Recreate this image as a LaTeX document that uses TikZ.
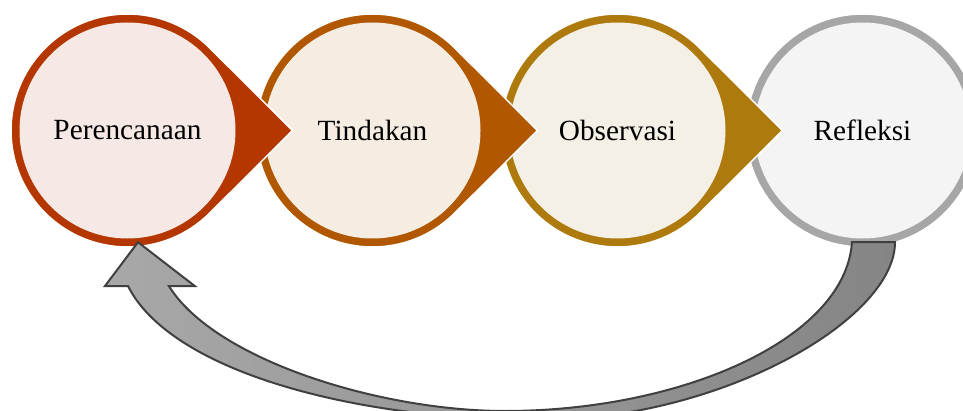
\documentclass[tikz,border=0pt]{standalone}
\usepackage{fontspec}
\setmainfont{Liberation Serif}
\usetikzlibrary{calc}
\newcommand{\outrad}{116.5}
\newcommand{\tipdist}{165}
\definecolor{planring}{RGB}{180,54,0}
\definecolor{planfill}{RGB}{246,232,228}
\definecolor{actring}{RGB}{177,87,0}
\definecolor{actfill}{RGB}{245,236,226}
\definecolor{obsring}{RGB}{174,122,14}
\definecolor{obsfill}{RGB}{244,240,230}
\definecolor{refring}{RGB}{166,166,166}
\definecolor{reffill}{RGB}{244,244,244}
\definecolor{bendlight}{RGB}{168,168,168}
\definecolor{benddark}{RGB}{133,133,133}
\tikzset{ring/.style={fill=#1,draw=white,line width=1.5pt},ring/.default=gray}
\tikzset{disc/.style={circle,fill=#1,inner sep=0pt,minimum size=216pt,
  font=\fontsize{29.3}{35}\selectfont},disc/.default=white}
\tikzset{bend/.style={draw=#1,line width=2pt,line join=miter,
  left color=bendlight,right color=benddark},bend/.default=black!75}

\begin{document}
\begin{tikzpicture}[x=1pt,y=1pt]
		\useasboundingbox (0,0) rectangle (963,410);
		% last step first, so every point lies over the next ring
		\coordinate (c4) at (862.5,279.5);
		\fill [ring=refring] (c4) circle (\outrad);
		\node [disc=reffill] (ref) at (c4) {Refleksi};
		\foreach \i/\name/\txt/\rc/\fc in {3/obs/Observasi/obsring/obsfill,
			2/act/Tindakan/actring/actfill,1/plan/Perencanaan/planring/planfill}{
			\coordinate (c\i) at ({127.5+245*(\i-1)},279.5);
			\filldraw [ring=\rc] ($(c\i)+(\tipdist,0)$) --
				($(c\i)+(45.3:\outrad)$) arc (45.3:314.7:\outrad) -- cycle;
			\node [disc=\fc] (\name) at (c\i) {\txt};
		}
		
		% return arrow
		\coordinate (headtip) at ($(plan.south)+(10.5,-3.5)$);
		\coordinate (tailin) at ($(ref.south)+(-10.5,-3.5)$);
		\coordinate (tailout) at ($(ref.south)+(32.5,-3.5)$);
		\path [bend]
			(headtip) -- ++(57,-44) -- ++(-26,0)
			.. controls (215,50) and (380,-1) .. (505,-1)
			.. controls (680,-1) and (845,70) .. (tailin)
			-- (tailout)
			.. controls (895,90) and (720,-10) .. (540,-10)
			.. controls (350,-10) and (170,40) .. (128,124)
			-- (105,124) -- cycle;
	\end{tikzpicture}
\end{document}
